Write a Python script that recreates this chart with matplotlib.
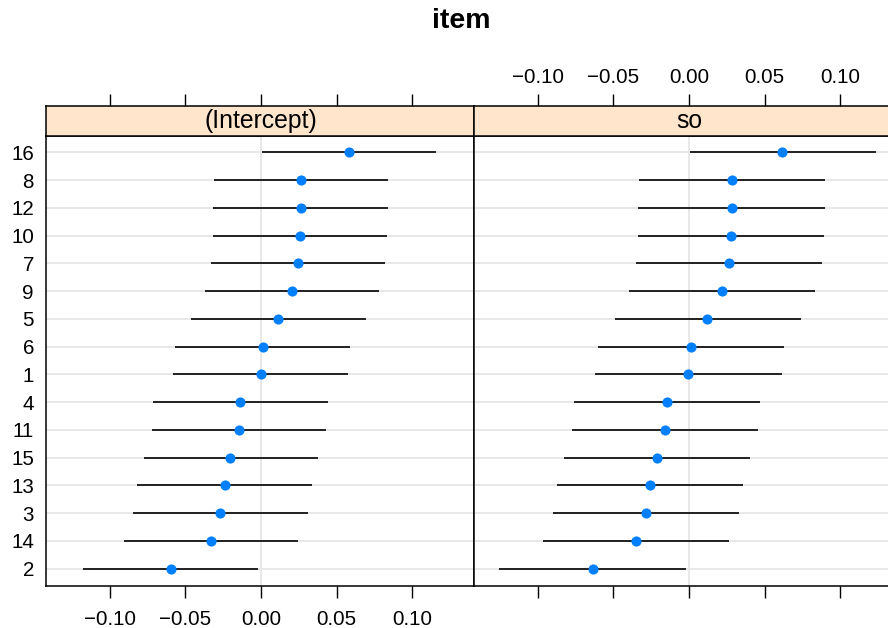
import matplotlib
matplotlib.use("Agg")
import matplotlib.pyplot as plt

plt.rcParams['font.family'] = ['Liberation Sans', 'DejaVu Sans']

# items, top to bottom as shown
items = ["16", "8", "12", "10", "7", "9", "5", "6", "1", "4", "11", "15", "13", "3", "14", "2"]

# (Intercept) panel
int_est = [0.0580, 0.0265, 0.0262, 0.0260, 0.0247, 0.0205, 0.0115, 0.0011,
           -0.0002, -0.0137, -0.0148, -0.0203, -0.0240, -0.0269, -0.0331, -0.0597]
int_lo = [0.0004, -0.0313, -0.0315, -0.0317, -0.0331, -0.0373, -0.0463, -0.0567,
          -0.0580, -0.0714, -0.0723, -0.0776, -0.0820, -0.0847, -0.0908, -0.1175]
int_hi = [0.1155, 0.0840, 0.0838, 0.0836, 0.0822, 0.0780, 0.0692, 0.0586,
          0.0573, 0.0441, 0.0428, 0.0377, 0.0335, 0.0309, 0.0247, -0.0020]

# so panel
so_est = [0.0618, 0.0285, 0.0282, 0.0280, 0.0265, 0.0221, 0.0121, 0.0011,
          -0.0004, -0.0145, -0.0156, -0.0212, -0.0260, -0.0286, -0.0353, -0.0637]
so_lo = [0.0005, -0.0333, -0.0335, -0.0337, -0.0353, -0.0397, -0.0491, -0.0604,
         -0.0619, -0.0763, -0.0771, -0.0827, -0.0875, -0.0901, -0.0967, -0.1254]
so_hi = [0.1237, 0.0900, 0.0898, 0.0896, 0.0880, 0.0836, 0.0739, 0.0626,
         0.0613, 0.0470, 0.0459, 0.0403, 0.0357, 0.0329, 0.0263, -0.0022]

panels = [("(Intercept)", int_est, int_lo, int_hi), ("so", so_est, so_lo, so_hi)]
xticks = [-0.10, -0.05, 0.00, 0.05, 0.10]
xlabels = ["\u22120.10", "\u22120.05", "0.00", "0.05", "0.10"]

W, H = 888, 628
fig = plt.figure(figsize=(W / 100, H / 100), dpi=100)

pan_w = 428 / W
pan_bottom = (H - 585.7) / H
pan_h = (585.7 - 136) / H
strip_h = 30.3 / H
lefts = [45.7 / W, 473.7 / W]
xlim = (-0.1424, 0.1407)
n = len(items)
ypos = list(range(n, 0, -1))

for i, (name, est, lo, hi) in enumerate(panels):
    ax = fig.add_axes([lefts[i], pan_bottom, pan_w, pan_h])
    for y in ypos:
        ax.axhline(y, color="#e6e6e6", lw=1.3, zorder=0)
    ax.axvline(0, color="#e6e6e6", lw=1.3, zorder=0)
    ax.hlines(ypos, lo, hi, color="black", lw=1.2, zorder=2)
    ax.plot(est, ypos, "o", color="#0080ff", ms=7.3, mec="none", zorder=3)
    ax.set_xlim(*xlim)
    ax.set_ylim(0.388, n + 0.588)
    ax.set_xticks(xticks)
    if i == 0:
        ax.set_xticklabels(xlabels, fontsize=14.8)
        ax.set_yticks(ypos)
        ax.set_yticklabels(items, fontsize=14.8)
        ax.tick_params(axis="y", length=0, pad=8.5)
    else:
        ax.set_xticklabels([])
        ax.set_yticks([])
    ax.tick_params(axis="x", direction="out", length=8.4, width=1.0, pad=9)
    for s in ax.spines.values():
        s.set_linewidth(1.1)

    sax = fig.add_axes([lefts[i], pan_bottom + pan_h, pan_w, strip_h])
    sax.set_facecolor("#ffe5cc")
    sax.set_xlim(*xlim)
    sax.set_ylim(0, 1)
    sax.set_yticks([])
    sax.xaxis.tick_top()
    sax.set_xticks(xticks)
    if i == 1:
        sax.set_xticklabels(xlabels, fontsize=14.8)
    else:
        sax.set_xticklabels([])
    sax.tick_params(axis="x", direction="out", length=8.4, width=1.0, pad=5)
    for s in sax.spines.values():
        s.set_linewidth(1.1)
    sax.text(0.0, 0.5, name, ha="center", va="center", fontsize=17.8,
             transform=sax.get_xaxis_transform())

fig.text(461.5 / W, 1 - 21 / H, "item", ha="center", va="center",
         fontsize=20.5, fontweight="bold")

fig.savefig("out.png", dpi=100)
